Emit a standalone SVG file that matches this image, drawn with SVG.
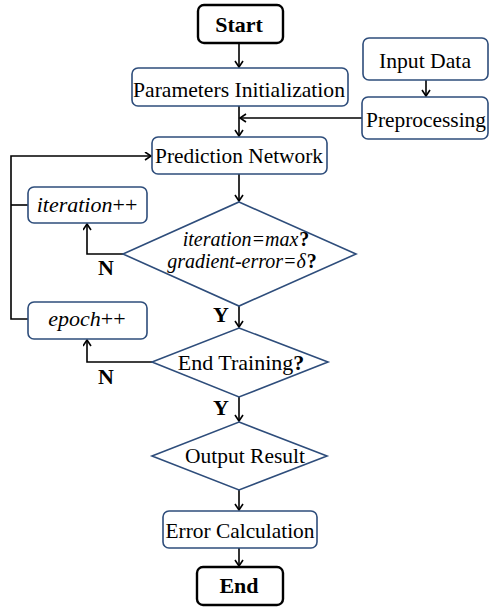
<svg xmlns="http://www.w3.org/2000/svg" width="489" height="610" viewBox="0 0 489 610">
<defs>
<style>
.box{fill:#fff;stroke:#2E4D7B;stroke-width:1.6}
.term{fill:#fff;stroke:#000;stroke-width:2.4}
.dia{fill:#fff;stroke:#2E4D7B;stroke-width:1.6}
.t{font-family:"Liberation Serif","Times New Roman",serif;font-size:22px;fill:#000;text-anchor:middle}
.s{font-size:20px}
.b{font-weight:bold}
.i{font-style:italic}
.con{fill:none;stroke:#000;stroke-width:1.6}
</style>
<marker id="ah" markerUnits="userSpaceOnUse" markerWidth="10" markerHeight="10" refX="7" refY="4.5" orient="auto">
<path d="M1,0.5 L7,4.5 L1,8.5" fill="none" stroke="#000" stroke-width="1.6"/>
</marker>
</defs>
<rect width="489" height="610" fill="#fff"/>
<g id="connectors">
<path class="con" d="M239,43 V67" marker-end="url(#ah)"/>
<path class="con" d="M239,106 V136" marker-end="url(#ah)"/>
<path class="con" d="M362,118 H240" marker-end="url(#ah)"/>
<path class="con" d="M426,80 V96" marker-end="url(#ah)"/>
<path class="con" d="M239,174 V201" marker-end="url(#ah)"/>
<path class="con" d="M239,306 V327" marker-end="url(#ah)"/>
<path class="con" d="M123,254 H87 V224" marker-end="url(#ah)"/>
<path class="con" d="M152,362 H87 V340" marker-end="url(#ah)"/>
<path class="con" d="M239,397 V421" marker-end="url(#ah)"/>
<path class="con" d="M239,490 V510" marker-end="url(#ah)"/>
<path class="con" d="M239,548 V566" marker-end="url(#ah)"/>
<path class="con" d="M28,205 H11"/>
<path class="con" d="M28,319 H11 V156 H151" marker-end="url(#ah)"/>
<text class="t b" x="106" y="275">N</text>
<text class="t b" x="106" y="384">N</text>
<text class="t b" x="221" y="322">Y</text>
<text class="t b" x="221" y="415">Y</text>
</g>
<g id="start">
<rect class="term" x="198" y="5" width="85" height="38" rx="6"/>
<text class="t b" x="239" y="32">Start</text>
</g>
<g id="params">
<rect class="box" x="132" y="68" width="216" height="38" rx="6"/>
<text class="t" x="239" y="97" textLength="212" lengthAdjust="spacingAndGlyphs">Parameters Initialization</text>
</g>
<g id="input">
<rect class="box" x="363" y="38" width="125" height="42" rx="6"/>
<text class="t" x="425" y="68" textLength="92" lengthAdjust="spacingAndGlyphs">Input Data</text>
</g>
<g id="preprocessing">
<rect class="box" x="362" y="97" width="126" height="42" rx="6"/>
<text class="t" x="426" y="127" textLength="120" lengthAdjust="spacingAndGlyphs">Preprocessing</text>
</g>
<g id="prediction">
<rect class="box" x="152" y="137" width="175" height="37" rx="6"/>
<text class="t" x="239" y="163" textLength="168" lengthAdjust="spacingAndGlyphs">Prediction Network</text>
</g>
<g id="iteration">
<rect class="box" x="28" y="187" width="119" height="36" rx="6"/>
<text class="t" x="87" y="212"><tspan class="i">iteration</tspan>++</text>
</g>
<g id="check1">
<polygon class="dia" points="239,202 356,254 239,306 123,254"/>
<text class="t s" x="246" y="246"><tspan class="i">iteration=max</tspan><tspan class="b" dx="1">?</tspan></text>
<text class="t s" x="242" y="268"><tspan class="i">gradient-error=δ</tspan><tspan class="b" dx="1">?</tspan></text>
</g>
<g id="epoch">
<rect class="box" x="28" y="302" width="119" height="37" rx="6"/>
<text class="t" x="87" y="326"><tspan class="i">epoch</tspan>++</text>
</g>
<g id="endtraining">
<polygon class="dia" points="239,328 328,362 239,397 152,362"/>
<text class="t" x="241" y="370">End Training<tspan class="b">?</tspan></text>
</g>
<g id="output">
<polygon class="dia" points="239,422 327,456 239,490 152,456"/>
<text class="t" x="245" y="463" textLength="120" lengthAdjust="spacingAndGlyphs">Output Result</text>
</g>
<g id="error">
<rect class="box" x="163" y="511" width="154" height="37" rx="6"/>
<text class="t" x="240" y="538" textLength="149" lengthAdjust="spacingAndGlyphs">Error Calculation</text>
</g>
<g id="end">
<rect class="term" x="197" y="567" width="86" height="38" rx="6"/>
<text class="t b" x="239" y="593">End</text>
</g>
</svg>
